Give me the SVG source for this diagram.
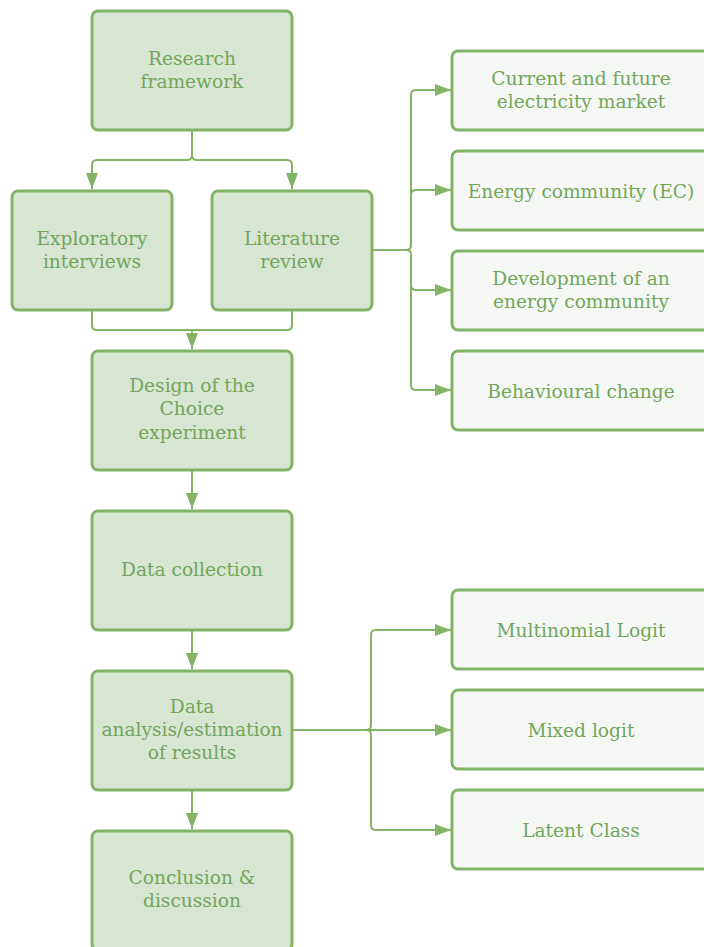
<svg xmlns="http://www.w3.org/2000/svg" width="704" height="947" viewBox="0 0 704 947">
<defs>
<style>
.n rect{stroke:#82b366;stroke-width:3}
.main rect{fill:#d8e5d3}
.side rect{fill:#f6f8f5}
text{font-family:"DejaVu Serif","Liberation Serif",serif;font-size:18.6px;fill:#72a65a;text-anchor:middle;dominant-baseline:central}
.c path{fill:none;stroke:#82b366;stroke-width:2}
</style>
<marker id="ah" viewBox="0 0 16 14" refX="16" refY="7" markerWidth="16" markerHeight="14" markerUnits="userSpaceOnUse" orient="auto">
<path d="M0,1 L16,7 L0,13 Z" fill="#82b366"/>
</marker>
</defs>
<rect width="704" height="947" fill="#ffffff"/>
<g class="c">
<path d="M192,131 V155 Q192,160 187,160 H97 Q92,160 92,165 V189" marker-end="url(#ah)"/>
<path d="M192,131 V155 Q192,160 197,160 H287 Q292,160 292,165 V189" marker-end="url(#ah)"/>
<path d="M92,311 V325 Q92,330 97,330 H287 Q292,330 292,325 V311"/>
<path d="M192,330 V349" marker-end="url(#ah)"/>
<path d="M373,250 H406 Q411,250 411,245 V95 Q411,90 416,90 H451" marker-end="url(#ah)"/>
<path d="M411,195 Q411,190 416,190 H451" marker-end="url(#ah)"/>
<path d="M373,250 H406 Q411,250 411,255 V285 Q411,290 416,290 H451" marker-end="url(#ah)"/>
<path d="M411,285 V385 Q411,390 416,390 H451" marker-end="url(#ah)"/>
<path d="M192,471 V509" marker-end="url(#ah)"/>
<path d="M192,631 V669" marker-end="url(#ah)"/>
<path d="M192,791 V829" marker-end="url(#ah)"/>
<path d="M293,730 H366 Q371,730 371,725 V635 Q371,630 376,630 H451" marker-end="url(#ah)"/>
<path d="M293,730 H451" marker-end="url(#ah)"/>
<path d="M293,730 H366 Q371,730 371,735 V825 Q371,830 376,830 H451" marker-end="url(#ah)"/>
</g>
<g id="research-framework" class="n main"><rect x="92" y="11" width="200" height="119" rx="6"/><text x="192" y="58">Research</text><text x="192" y="81">framework</text></g>
<g id="exploratory-interviews" class="n main"><rect x="12" y="191" width="160" height="119" rx="6"/><text x="92" y="238">Exploratory</text><text x="92" y="261">interviews</text></g>
<g id="literature-review" class="n main"><rect x="212" y="191" width="160" height="119" rx="6"/><text x="292" y="238">Literature</text><text x="292" y="261">review</text></g>
<g id="design-choice-experiment" class="n main"><rect x="92" y="351" width="200" height="119" rx="6"/><text x="192" y="385">Design of the</text><text x="192" y="408">Choice</text><text x="192" y="432">experiment</text></g>
<g id="data-collection" class="n main"><rect x="92" y="511" width="200" height="119" rx="6"/><text x="192" y="569">Data collection</text></g>
<g id="data-analysis" class="n main"><rect x="92" y="671" width="200" height="119" rx="6"/><text x="192" y="706">Data</text><text x="192" y="729">analysis/estimation</text><text x="192" y="752">of results</text></g>
<g id="conclusion-discussion" class="n main"><rect x="92" y="831" width="200" height="119" rx="6"/><text x="192" y="877">Conclusion &amp;</text><text x="192" y="900">discussion</text></g>
<g id="current-future-market" class="n side"><rect x="452" y="51" width="262" height="79" rx="6"/><text x="581" y="78">Current and future</text><text x="581" y="101">electricity market</text></g>
<g id="energy-community" class="n side"><rect x="452" y="151" width="262" height="79" rx="6"/><text x="581" y="191">Energy community (EC)</text></g>
<g id="development-ec" class="n side"><rect x="452" y="251" width="262" height="79" rx="6"/><text x="581" y="278">Development of an</text><text x="581" y="301">energy community</text></g>
<g id="behavioural-change" class="n side"><rect x="452" y="351" width="262" height="79" rx="6"/><text x="581" y="391">Behavioural change</text></g>
<g id="multinomial-logit" class="n side"><rect x="452" y="590" width="262" height="79" rx="6"/><text x="581" y="630">Multinomial Logit</text></g>
<g id="mixed-logit" class="n side"><rect x="452" y="690" width="262" height="79" rx="6"/><text x="581" y="730">Mixed logit</text></g>
<g id="latent-class" class="n side"><rect x="452" y="790" width="262" height="79" rx="6"/><text x="581" y="830">Latent Class</text></g>
</svg>
